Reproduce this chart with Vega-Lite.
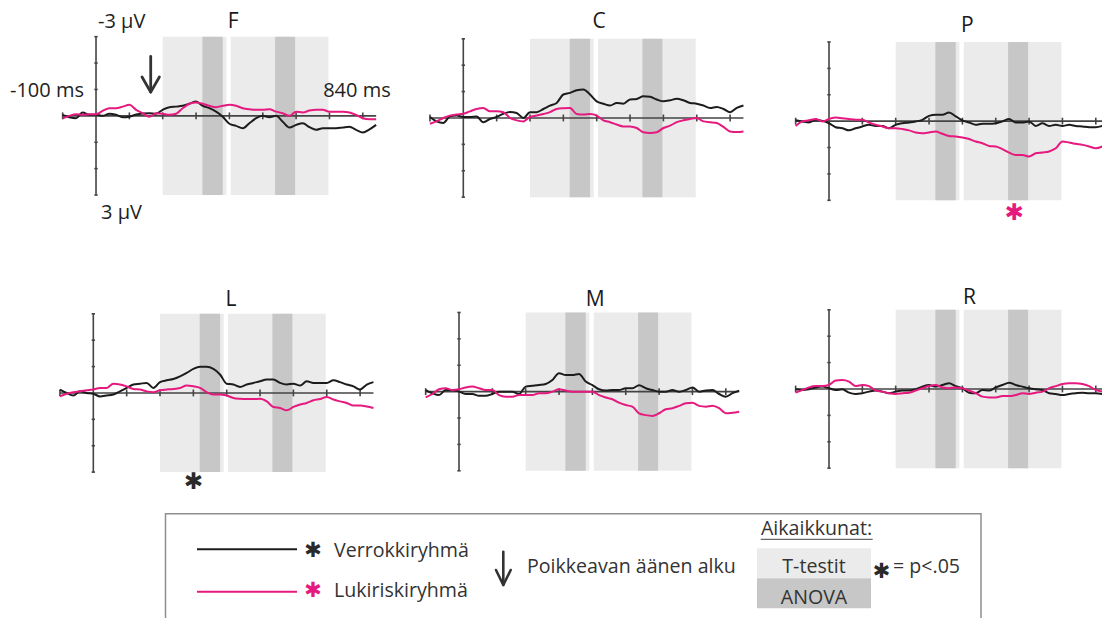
{
  "$schema": "https://vega.github.io/schema/vega-lite/v6.json",
  "padding": 0,
  "spacing": 0,
  "config": {"view": {"stroke": null}, "concat": {"spacing": 0}, "text": {"font": "Open Sans"}},
  "datasets": {
    "win": [
      {"t": 200, "t2": 391, "v": -3, "v2": 3, "kind": "T-testit"},
      {"t": 404, "t2": 697, "v": -3, "v2": 3, "kind": "T-testit"},
      {"t": 319, "t2": 380, "v": -3, "v2": 3, "kind": "ANOVA"},
      {"t": 537, "t2": 597, "v": -3, "v2": 3, "kind": "ANOVA"}
    ],
    "frame": [
      {"t": -100, "t2": 840, "v": 0, "v2": 0},
      {"t": 0, "t2": 0, "v": -3, "v2": 3},
      {"t": -100, "t2": -100, "v": -0.13, "v2": 0.13},
      {"t": 100, "t2": 100, "v": -0.13, "v2": 0.13},
      {"t": 200, "t2": 200, "v": -0.13, "v2": 0.13},
      {"t": 300, "t2": 300, "v": -0.13, "v2": 0.13},
      {"t": 400, "t2": 400, "v": -0.13, "v2": 0.13},
      {"t": 500, "t2": 500, "v": -0.13, "v2": 0.13},
      {"t": 600, "t2": 600, "v": -0.13, "v2": 0.13},
      {"t": 700, "t2": 700, "v": -0.13, "v2": 0.13},
      {"t": 800, "t2": 800, "v": -0.13, "v2": 0.13},
      {"t": -5, "t2": 5, "v": -3, "v2": -3},
      {"t": -5, "t2": 5, "v": -2, "v2": -2},
      {"t": -5, "t2": 5, "v": -1, "v2": -1},
      {"t": -5, "t2": 5, "v": 1, "v2": 1},
      {"t": -5, "t2": 5, "v": 2, "v2": 2},
      {"t": -5, "t2": 5, "v": 3, "v2": 3}
    ],
    "F": [
      {"t": -100, "Verrokkiryhmä": -0.04, "Lukiriskiryhmä": 0.09},
      {"t": -80, "Verrokkiryhmä": 0.05, "Lukiriskiryhmä": 0},
      {"t": -60, "Verrokkiryhmä": 0.09, "Lukiriskiryhmä": -0.06},
      {"t": -40, "Verrokkiryhmä": -0.13, "Lukiriskiryhmä": -0.04},
      {"t": -20, "Verrokkiryhmä": -0.04, "Lukiriskiryhmä": -0.06},
      {"t": 0, "Verrokkiryhmä": -0.04, "Lukiriskiryhmä": -0.06},
      {"t": 20, "Verrokkiryhmä": 0, "Lukiriskiryhmä": -0.19},
      {"t": 40, "Verrokkiryhmä": -0.08, "Lukiriskiryhmä": -0.29},
      {"t": 60, "Verrokkiryhmä": -0.04, "Lukiriskiryhmä": -0.29},
      {"t": 80, "Verrokkiryhmä": 0.05, "Lukiriskiryhmä": -0.35},
      {"t": 100, "Verrokkiryhmä": 0.03, "Lukiriskiryhmä": -0.42},
      {"t": 120, "Verrokkiryhmä": -0.05, "Lukiriskiryhmä": -0.23},
      {"t": 140, "Verrokkiryhmä": -0.09, "Lukiriskiryhmä": -0.1},
      {"t": 160, "Verrokkiryhmä": -0.1, "Lukiriskiryhmä": 0.03},
      {"t": 180, "Verrokkiryhmä": -0.08, "Lukiriskiryhmä": -0.1},
      {"t": 200, "Verrokkiryhmä": -0.23, "Lukiriskiryhmä": -0.08},
      {"t": 220, "Verrokkiryhmä": -0.33, "Lukiriskiryhmä": -0.04},
      {"t": 240, "Verrokkiryhmä": -0.35, "Lukiriskiryhmä": -0.08},
      {"t": 260, "Verrokkiryhmä": -0.38, "Lukiriskiryhmä": -0.29},
      {"t": 280, "Verrokkiryhmä": -0.46, "Lukiriskiryhmä": -0.46},
      {"t": 300, "Verrokkiryhmä": -0.54, "Lukiriskiryhmä": -0.51},
      {"t": 320, "Verrokkiryhmä": -0.38, "Lukiriskiryhmä": -0.46},
      {"t": 340, "Verrokkiryhmä": -0.29, "Lukiriskiryhmä": -0.38},
      {"t": 360, "Verrokkiryhmä": -0.16, "Lukiriskiryhmä": -0.33},
      {"t": 380, "Verrokkiryhmä": 0.03, "Lukiriskiryhmä": -0.38},
      {"t": 400, "Verrokkiryhmä": 0.3, "Lukiriskiryhmä": -0.42},
      {"t": 420, "Verrokkiryhmä": 0.38, "Lukiriskiryhmä": -0.38},
      {"t": 440, "Verrokkiryhmä": 0.47, "Lukiriskiryhmä": -0.29},
      {"t": 460, "Verrokkiryhmä": 0.28, "Lukiriskiryhmä": -0.25},
      {"t": 480, "Verrokkiryhmä": 0.09, "Lukiriskiryhmä": -0.23},
      {"t": 500, "Verrokkiryhmä": 0, "Lukiriskiryhmä": -0.23},
      {"t": 520, "Verrokkiryhmä": 0.05, "Lukiriskiryhmä": -0.25},
      {"t": 540, "Verrokkiryhmä": 0, "Lukiriskiryhmä": -0.16},
      {"t": 560, "Verrokkiryhmä": 0.22, "Lukiriskiryhmä": -0.1},
      {"t": 580, "Verrokkiryhmä": 0.44, "Lukiriskiryhmä": 0},
      {"t": 600, "Verrokkiryhmä": 0.34, "Lukiriskiryhmä": -0.16},
      {"t": 620, "Verrokkiryhmä": 0.28, "Lukiriskiryhmä": -0.13},
      {"t": 640, "Verrokkiryhmä": 0.43, "Lukiriskiryhmä": -0.2},
      {"t": 660, "Verrokkiryhmä": 0.53, "Lukiriskiryhmä": -0.23},
      {"t": 680, "Verrokkiryhmä": 0.47, "Lukiriskiryhmä": -0.23},
      {"t": 700, "Verrokkiryhmä": 0.47, "Lukiriskiryhmä": -0.16},
      {"t": 720, "Verrokkiryhmä": 0.47, "Lukiriskiryhmä": -0.16},
      {"t": 740, "Verrokkiryhmä": 0.44, "Lukiriskiryhmä": -0.16},
      {"t": 760, "Verrokkiryhmä": 0.41, "Lukiriskiryhmä": -0.13},
      {"t": 780, "Verrokkiryhmä": 0.53, "Lukiriskiryhmä": -0.04},
      {"t": 800, "Verrokkiryhmä": 0.63, "Lukiriskiryhmä": 0.09},
      {"t": 820, "Verrokkiryhmä": 0.51, "Lukiriskiryhmä": 0.13},
      {"t": 840, "Verrokkiryhmä": 0.34, "Lukiriskiryhmä": 0.13}
    ],
    "C": [
      {"t": -100, "Verrokkiryhmä": -0.04, "Lukiriskiryhmä": 0.22},
      {"t": -80, "Verrokkiryhmä": 0.13, "Lukiriskiryhmä": 0.13},
      {"t": -60, "Verrokkiryhmä": 0.19, "Lukiriskiryhmä": 0},
      {"t": -40, "Verrokkiryhmä": -0.06, "Lukiriskiryhmä": -0.09},
      {"t": -20, "Verrokkiryhmä": -0.09, "Lukiriskiryhmä": -0.13},
      {"t": 0, "Verrokkiryhmä": -0.04, "Lukiriskiryhmä": -0.16},
      {"t": 20, "Verrokkiryhmä": -0.04, "Lukiriskiryhmä": -0.25},
      {"t": 40, "Verrokkiryhmä": -0.06, "Lukiriskiryhmä": -0.34},
      {"t": 60, "Verrokkiryhmä": 0.16, "Lukiriskiryhmä": -0.38},
      {"t": 80, "Verrokkiryhmä": 0.04, "Lukiriskiryhmä": -0.25},
      {"t": 100, "Verrokkiryhmä": -0.04, "Lukiriskiryhmä": -0.25},
      {"t": 120, "Verrokkiryhmä": -0.16, "Lukiriskiryhmä": -0.22},
      {"t": 140, "Verrokkiryhmä": -0.23, "Lukiriskiryhmä": 0},
      {"t": 160, "Verrokkiryhmä": -0.19, "Lukiriskiryhmä": 0.09},
      {"t": 180, "Verrokkiryhmä": 0, "Lukiriskiryhmä": 0.13},
      {"t": 200, "Verrokkiryhmä": -0.22, "Lukiriskiryhmä": -0.04},
      {"t": 220, "Verrokkiryhmä": -0.22, "Lukiriskiryhmä": -0.09},
      {"t": 240, "Verrokkiryhmä": -0.34, "Lukiriskiryhmä": -0.15},
      {"t": 260, "Verrokkiryhmä": -0.47, "Lukiriskiryhmä": -0.22},
      {"t": 280, "Verrokkiryhmä": -0.57, "Lukiriskiryhmä": -0.34},
      {"t": 300, "Verrokkiryhmä": -0.89, "Lukiriskiryhmä": -0.37},
      {"t": 320, "Verrokkiryhmä": -0.95, "Lukiriskiryhmä": -0.38},
      {"t": 340, "Verrokkiryhmä": -1.05, "Lukiriskiryhmä": -0.15},
      {"t": 360, "Verrokkiryhmä": -1.08, "Lukiriskiryhmä": -0.13},
      {"t": 380, "Verrokkiryhmä": -0.89, "Lukiriskiryhmä": -0.15},
      {"t": 400, "Verrokkiryhmä": -0.63, "Lukiriskiryhmä": -0.09},
      {"t": 420, "Verrokkiryhmä": -0.54, "Lukiriskiryhmä": 0.09},
      {"t": 440, "Verrokkiryhmä": -0.47, "Lukiriskiryhmä": 0.16},
      {"t": 460, "Verrokkiryhmä": -0.57, "Lukiriskiryhmä": 0.25},
      {"t": 480, "Verrokkiryhmä": -0.54, "Lukiriskiryhmä": 0.32},
      {"t": 500, "Verrokkiryhmä": -0.7, "Lukiriskiryhmä": 0.32},
      {"t": 520, "Verrokkiryhmä": -0.72, "Lukiriskiryhmä": 0.38},
      {"t": 540, "Verrokkiryhmä": -0.82, "Lukiriskiryhmä": 0.54},
      {"t": 560, "Verrokkiryhmä": -0.8, "Lukiriskiryhmä": 0.57},
      {"t": 580, "Verrokkiryhmä": -0.7, "Lukiriskiryhmä": 0.54},
      {"t": 600, "Verrokkiryhmä": -0.63, "Lukiriskiryhmä": 0.38},
      {"t": 620, "Verrokkiryhmä": -0.67, "Lukiriskiryhmä": 0.29},
      {"t": 640, "Verrokkiryhmä": -0.73, "Lukiriskiryhmä": 0.16},
      {"t": 660, "Verrokkiryhmä": -0.67, "Lukiriskiryhmä": 0.09},
      {"t": 680, "Verrokkiryhmä": -0.57, "Lukiriskiryhmä": 0.04},
      {"t": 700, "Verrokkiryhmä": -0.54, "Lukiriskiryhmä": 0},
      {"t": 720, "Verrokkiryhmä": -0.47, "Lukiriskiryhmä": 0.13},
      {"t": 740, "Verrokkiryhmä": -0.38, "Lukiriskiryhmä": 0.16},
      {"t": 760, "Verrokkiryhmä": -0.42, "Lukiriskiryhmä": 0.19},
      {"t": 780, "Verrokkiryhmä": -0.34, "Lukiriskiryhmä": 0.34},
      {"t": 800, "Verrokkiryhmä": -0.22, "Lukiriskiryhmä": 0.51},
      {"t": 820, "Verrokkiryhmä": -0.38, "Lukiriskiryhmä": 0.53},
      {"t": 840, "Verrokkiryhmä": -0.47, "Lukiriskiryhmä": 0.51}
    ],
    "P": [
      {"t": -100, "Verrokkiryhmä": -0.03, "Lukiriskiryhmä": 0.18},
      {"t": -80, "Verrokkiryhmä": 0.01, "Lukiriskiryhmä": 0.01},
      {"t": -60, "Verrokkiryhmä": 0.05, "Lukiriskiryhmä": -0.03},
      {"t": -40, "Verrokkiryhmä": -0.05, "Lukiriskiryhmä": -0.08},
      {"t": -20, "Verrokkiryhmä": -0.01, "Lukiriskiryhmä": 0.01},
      {"t": 0, "Verrokkiryhmä": 0.08, "Lukiriskiryhmä": -0.08},
      {"t": 20, "Verrokkiryhmä": 0.23, "Lukiriskiryhmä": -0.14},
      {"t": 40, "Verrokkiryhmä": 0.27, "Lukiriskiryhmä": -0.11},
      {"t": 60, "Verrokkiryhmä": 0.35, "Lukiriskiryhmä": -0.08},
      {"t": 80, "Verrokkiryhmä": 0.27, "Lukiriskiryhmä": -0.05},
      {"t": 100, "Verrokkiryhmä": 0.2, "Lukiriskiryhmä": -0.05},
      {"t": 120, "Verrokkiryhmä": 0.14, "Lukiriskiryhmä": 0.05},
      {"t": 140, "Verrokkiryhmä": 0.18, "Lukiriskiryhmä": 0.14},
      {"t": 160, "Verrokkiryhmä": 0.18, "Lukiriskiryhmä": 0.2},
      {"t": 180, "Verrokkiryhmä": 0.27, "Lukiriskiryhmä": 0.27},
      {"t": 200, "Verrokkiryhmä": 0.14, "Lukiriskiryhmä": 0.27},
      {"t": 220, "Verrokkiryhmä": 0.08, "Lukiriskiryhmä": 0.3},
      {"t": 240, "Verrokkiryhmä": 0.05, "Lukiriskiryhmä": 0.35},
      {"t": 260, "Verrokkiryhmä": 0.01, "Lukiriskiryhmä": 0.43},
      {"t": 280, "Verrokkiryhmä": -0.05, "Lukiriskiryhmä": 0.46},
      {"t": 300, "Verrokkiryhmä": -0.2, "Lukiriskiryhmä": 0.43},
      {"t": 320, "Verrokkiryhmä": -0.24, "Lukiriskiryhmä": 0.39},
      {"t": 340, "Verrokkiryhmä": -0.24, "Lukiriskiryhmä": 0.48},
      {"t": 360, "Verrokkiryhmä": -0.33, "Lukiriskiryhmä": 0.56},
      {"t": 380, "Verrokkiryhmä": -0.18, "Lukiriskiryhmä": 0.58},
      {"t": 400, "Verrokkiryhmä": -0.03, "Lukiriskiryhmä": 0.62},
      {"t": 420, "Verrokkiryhmä": 0.05, "Lukiriskiryhmä": 0.68},
      {"t": 440, "Verrokkiryhmä": 0.14, "Lukiriskiryhmä": 0.77},
      {"t": 460, "Verrokkiryhmä": 0.1, "Lukiriskiryhmä": 0.84},
      {"t": 480, "Verrokkiryhmä": 0.1, "Lukiriskiryhmä": 0.94},
      {"t": 500, "Verrokkiryhmä": 0.08, "Lukiriskiryhmä": 0.96},
      {"t": 520, "Verrokkiryhmä": 0.01, "Lukiriskiryhmä": 1.06},
      {"t": 540, "Verrokkiryhmä": -0.08, "Lukiriskiryhmä": 1.19},
      {"t": 560, "Verrokkiryhmä": 0.05, "Lukiriskiryhmä": 1.28},
      {"t": 580, "Verrokkiryhmä": 0.05, "Lukiriskiryhmä": 1.28},
      {"t": 600, "Verrokkiryhmä": 0.01, "Lukiriskiryhmä": 1.34},
      {"t": 620, "Verrokkiryhmä": 0.18, "Lukiriskiryhmä": 1.22},
      {"t": 640, "Verrokkiryhmä": 0.08, "Lukiriskiryhmä": 1.19},
      {"t": 660, "Verrokkiryhmä": 0.18, "Lukiriskiryhmä": 1.15},
      {"t": 680, "Verrokkiryhmä": 0.14, "Lukiriskiryhmä": 1.03},
      {"t": 700, "Verrokkiryhmä": 0.18, "Lukiriskiryhmä": 0.77},
      {"t": 720, "Verrokkiryhmä": 0.14, "Lukiriskiryhmä": 0.81},
      {"t": 740, "Verrokkiryhmä": 0.18, "Lukiriskiryhmä": 0.86},
      {"t": 760, "Verrokkiryhmä": 0.2, "Lukiriskiryhmä": 0.9},
      {"t": 780, "Verrokkiryhmä": 0.23, "Lukiriskiryhmä": 0.96},
      {"t": 800, "Verrokkiryhmä": 0.23, "Lukiriskiryhmä": 1.03},
      {"t": 820, "Verrokkiryhmä": 0.18, "Lukiriskiryhmä": 0.96}
    ],
    "L": [
      {"t": -100, "Verrokkiryhmä": -0.13, "Lukiriskiryhmä": 0.13},
      {"t": -80, "Verrokkiryhmä": 0, "Lukiriskiryhmä": 0.03},
      {"t": -60, "Verrokkiryhmä": 0.1, "Lukiriskiryhmä": -0.03},
      {"t": -40, "Verrokkiryhmä": -0.06, "Lukiriskiryhmä": -0.06},
      {"t": -20, "Verrokkiryhmä": 0, "Lukiriskiryhmä": -0.1},
      {"t": 0, "Verrokkiryhmä": 0.03, "Lukiriskiryhmä": -0.13},
      {"t": 20, "Verrokkiryhmä": 0.13, "Lukiriskiryhmä": -0.19},
      {"t": 40, "Verrokkiryhmä": 0.1, "Lukiriskiryhmä": -0.19},
      {"t": 60, "Verrokkiryhmä": 0.06, "Lukiriskiryhmä": -0.35},
      {"t": 80, "Verrokkiryhmä": -0.06, "Lukiriskiryhmä": -0.32},
      {"t": 100, "Verrokkiryhmä": -0.19, "Lukiriskiryhmä": -0.25},
      {"t": 120, "Verrokkiryhmä": -0.32, "Lukiriskiryhmä": -0.15},
      {"t": 140, "Verrokkiryhmä": -0.35, "Lukiriskiryhmä": -0.13},
      {"t": 160, "Verrokkiryhmä": -0.38, "Lukiriskiryhmä": -0.06},
      {"t": 180, "Verrokkiryhmä": -0.19, "Lukiriskiryhmä": -0.03},
      {"t": 200, "Verrokkiryhmä": -0.41, "Lukiriskiryhmä": -0.1},
      {"t": 220, "Verrokkiryhmä": -0.48, "Lukiriskiryhmä": -0.13},
      {"t": 240, "Verrokkiryhmä": -0.53, "Lukiriskiryhmä": -0.15},
      {"t": 260, "Verrokkiryhmä": -0.63, "Lukiriskiryhmä": -0.19},
      {"t": 280, "Verrokkiryhmä": -0.76, "Lukiriskiryhmä": -0.28},
      {"t": 300, "Verrokkiryhmä": -0.91, "Lukiriskiryhmä": -0.25},
      {"t": 320, "Verrokkiryhmä": -0.99, "Lukiriskiryhmä": -0.19},
      {"t": 340, "Verrokkiryhmä": -0.99, "Lukiriskiryhmä": -0.03},
      {"t": 360, "Verrokkiryhmä": -0.91, "Lukiriskiryhmä": 0.06},
      {"t": 380, "Verrokkiryhmä": -0.7, "Lukiriskiryhmä": 0.06},
      {"t": 400, "Verrokkiryhmä": -0.35, "Lukiriskiryhmä": 0.1},
      {"t": 420, "Verrokkiryhmä": -0.32, "Lukiriskiryhmä": 0.19},
      {"t": 440, "Verrokkiryhmä": -0.23, "Lukiriskiryhmä": 0.22},
      {"t": 460, "Verrokkiryhmä": -0.32, "Lukiriskiryhmä": 0.23},
      {"t": 480, "Verrokkiryhmä": -0.38, "Lukiriskiryhmä": 0.23},
      {"t": 500, "Verrokkiryhmä": -0.44, "Lukiriskiryhmä": 0.22},
      {"t": 520, "Verrokkiryhmä": -0.51, "Lukiriskiryhmä": 0.32},
      {"t": 540, "Verrokkiryhmä": -0.51, "Lukiriskiryhmä": 0.53},
      {"t": 560, "Verrokkiryhmä": -0.38, "Lukiriskiryhmä": 0.57},
      {"t": 580, "Verrokkiryhmä": -0.32, "Lukiriskiryhmä": 0.66},
      {"t": 600, "Verrokkiryhmä": -0.35, "Lukiriskiryhmä": 0.53},
      {"t": 620, "Verrokkiryhmä": -0.28, "Lukiriskiryhmä": 0.44},
      {"t": 640, "Verrokkiryhmä": -0.44, "Lukiriskiryhmä": 0.38},
      {"t": 660, "Verrokkiryhmä": -0.38, "Lukiriskiryhmä": 0.28},
      {"t": 680, "Verrokkiryhmä": -0.38, "Lukiriskiryhmä": 0.23},
      {"t": 700, "Verrokkiryhmä": -0.38, "Lukiriskiryhmä": 0.15},
      {"t": 720, "Verrokkiryhmä": -0.48, "Lukiriskiryhmä": 0.25},
      {"t": 740, "Verrokkiryhmä": -0.41, "Lukiriskiryhmä": 0.32},
      {"t": 760, "Verrokkiryhmä": -0.32, "Lukiriskiryhmä": 0.38},
      {"t": 780, "Verrokkiryhmä": -0.25, "Lukiriskiryhmä": 0.48},
      {"t": 800, "Verrokkiryhmä": -0.13, "Lukiriskiryhmä": 0.48},
      {"t": 820, "Verrokkiryhmä": -0.32, "Lukiriskiryhmä": 0.51},
      {"t": 840, "Verrokkiryhmä": -0.41, "Lukiriskiryhmä": 0.57}
    ],
    "M": [
      {"t": -100, "Verrokkiryhmä": -0.06, "Lukiriskiryhmä": 0.22},
      {"t": -80, "Verrokkiryhmä": 0.06, "Lukiriskiryhmä": 0.09},
      {"t": -60, "Verrokkiryhmä": 0.13, "Lukiriskiryhmä": -0.09},
      {"t": -40, "Verrokkiryhmä": -0.06, "Lukiriskiryhmä": -0.13},
      {"t": -20, "Verrokkiryhmä": -0.06, "Lukiriskiryhmä": -0.06},
      {"t": 0, "Verrokkiryhmä": 0, "Lukiriskiryhmä": -0.09},
      {"t": 20, "Verrokkiryhmä": 0.09, "Lukiriskiryhmä": -0.16},
      {"t": 40, "Verrokkiryhmä": 0.09, "Lukiriskiryhmä": -0.19},
      {"t": 60, "Verrokkiryhmä": 0.16, "Lukiriskiryhmä": -0.13},
      {"t": 80, "Verrokkiryhmä": 0.16, "Lukiriskiryhmä": -0.06},
      {"t": 100, "Verrokkiryhmä": 0.09, "Lukiriskiryhmä": -0.06},
      {"t": 120, "Verrokkiryhmä": 0, "Lukiriskiryhmä": 0.13},
      {"t": 140, "Verrokkiryhmä": 0, "Lukiriskiryhmä": 0.19},
      {"t": 160, "Verrokkiryhmä": 0, "Lukiriskiryhmä": 0.19},
      {"t": 180, "Verrokkiryhmä": 0.09, "Lukiriskiryhmä": 0.13},
      {"t": 200, "Verrokkiryhmä": -0.19, "Lukiriskiryhmä": 0.13},
      {"t": 220, "Verrokkiryhmä": -0.22, "Lukiriskiryhmä": 0.13},
      {"t": 240, "Verrokkiryhmä": -0.25, "Lukiriskiryhmä": 0.06},
      {"t": 260, "Verrokkiryhmä": -0.29, "Lukiriskiryhmä": 0.06},
      {"t": 280, "Verrokkiryhmä": -0.44, "Lukiriskiryhmä": 0},
      {"t": 300, "Verrokkiryhmä": -0.7, "Lukiriskiryhmä": -0.09},
      {"t": 320, "Verrokkiryhmä": -0.63, "Lukiriskiryhmä": -0.04},
      {"t": 340, "Verrokkiryhmä": -0.63, "Lukiriskiryhmä": 0},
      {"t": 360, "Verrokkiryhmä": -0.67, "Lukiriskiryhmä": 0},
      {"t": 380, "Verrokkiryhmä": -0.38, "Lukiriskiryhmä": 0},
      {"t": 400, "Verrokkiryhmä": -0.25, "Lukiriskiryhmä": 0},
      {"t": 420, "Verrokkiryhmä": -0.09, "Lukiriskiryhmä": 0.13},
      {"t": 440, "Verrokkiryhmä": -0.04, "Lukiriskiryhmä": 0.22},
      {"t": 460, "Verrokkiryhmä": -0.06, "Lukiriskiryhmä": 0.29},
      {"t": 480, "Verrokkiryhmä": -0.06, "Lukiriskiryhmä": 0.42},
      {"t": 500, "Verrokkiryhmä": -0.13, "Lukiriskiryhmä": 0.51},
      {"t": 520, "Verrokkiryhmä": -0.13, "Lukiriskiryhmä": 0.57},
      {"t": 540, "Verrokkiryhmä": -0.24, "Lukiriskiryhmä": 0.82},
      {"t": 560, "Verrokkiryhmä": -0.13, "Lukiriskiryhmä": 0.89},
      {"t": 580, "Verrokkiryhmä": -0.06, "Lukiriskiryhmä": 0.92},
      {"t": 600, "Verrokkiryhmä": 0, "Lukiriskiryhmä": 0.82},
      {"t": 620, "Verrokkiryhmä": 0, "Lukiriskiryhmä": 0.67},
      {"t": 640, "Verrokkiryhmä": -0.06, "Lukiriskiryhmä": 0.63},
      {"t": 660, "Verrokkiryhmä": 0, "Lukiriskiryhmä": 0.54},
      {"t": 680, "Verrokkiryhmä": -0.06, "Lukiriskiryhmä": 0.44},
      {"t": 700, "Verrokkiryhmä": -0.16, "Lukiriskiryhmä": 0.42},
      {"t": 720, "Verrokkiryhmä": 0, "Lukiriskiryhmä": 0.54},
      {"t": 740, "Verrokkiryhmä": -0.04, "Lukiriskiryhmä": 0.57},
      {"t": 760, "Verrokkiryhmä": -0.06, "Lukiriskiryhmä": 0.54},
      {"t": 780, "Verrokkiryhmä": 0.09, "Lukiriskiryhmä": 0.63},
      {"t": 800, "Verrokkiryhmä": 0.19, "Lukiriskiryhmä": 0.82},
      {"t": 820, "Verrokkiryhmä": 0.06, "Lukiriskiryhmä": 0.8},
      {"t": 840, "Verrokkiryhmä": -0.04, "Lukiriskiryhmä": 0.76}
    ],
    "R": [
      {"t": -100, "Verrokkiryhmä": 0.01, "Lukiriskiryhmä": 0.14},
      {"t": -80, "Verrokkiryhmä": 0.04, "Lukiriskiryhmä": 0.04},
      {"t": -60, "Verrokkiryhmä": 0.01, "Lukiriskiryhmä": -0.06},
      {"t": -40, "Verrokkiryhmä": -0.06, "Lukiriskiryhmä": -0.11},
      {"t": -20, "Verrokkiryhmä": -0.09, "Lukiriskiryhmä": -0.11},
      {"t": 0, "Verrokkiryhmä": -0.03, "Lukiriskiryhmä": -0.15},
      {"t": 20, "Verrokkiryhmä": 0.04, "Lukiriskiryhmä": -0.32},
      {"t": 40, "Verrokkiryhmä": 0.01, "Lukiriskiryhmä": -0.34},
      {"t": 60, "Verrokkiryhmä": 0.14, "Lukiriskiryhmä": -0.28},
      {"t": 80, "Verrokkiryhmä": 0.19, "Lukiriskiryhmä": -0.11},
      {"t": 100, "Verrokkiryhmä": 0.16, "Lukiriskiryhmä": -0.15},
      {"t": 120, "Verrokkiryhmä": 0.1, "Lukiriskiryhmä": -0.11},
      {"t": 140, "Verrokkiryhmä": 0.06, "Lukiriskiryhmä": 0.06},
      {"t": 160, "Verrokkiryhmä": 0.1, "Lukiriskiryhmä": 0.1},
      {"t": 180, "Verrokkiryhmä": 0.16, "Lukiriskiryhmä": 0.16},
      {"t": 200, "Verrokkiryhmä": 0.1, "Lukiriskiryhmä": 0.19},
      {"t": 220, "Verrokkiryhmä": 0.06, "Lukiriskiryhmä": 0.16},
      {"t": 240, "Verrokkiryhmä": 0.06, "Lukiriskiryhmä": 0.14},
      {"t": 260, "Verrokkiryhmä": 0.01, "Lukiriskiryhmä": 0.06},
      {"t": 280, "Verrokkiryhmä": -0.09, "Lukiriskiryhmä": -0.03},
      {"t": 300, "Verrokkiryhmä": -0.15, "Lukiriskiryhmä": -0.11},
      {"t": 320, "Verrokkiryhmä": -0.09, "Lukiriskiryhmä": -0.15},
      {"t": 340, "Verrokkiryhmä": -0.15, "Lukiriskiryhmä": -0.06},
      {"t": 360, "Verrokkiryhmä": -0.22, "Lukiriskiryhmä": -0.03},
      {"t": 380, "Verrokkiryhmä": -0.11, "Lukiriskiryhmä": -0.06},
      {"t": 400, "Verrokkiryhmä": -0.03, "Lukiriskiryhmä": -0.03},
      {"t": 420, "Verrokkiryhmä": 0.14, "Lukiriskiryhmä": 0.06},
      {"t": 440, "Verrokkiryhmä": 0.16, "Lukiriskiryhmä": 0.16},
      {"t": 460, "Verrokkiryhmä": 0.04, "Lukiriskiryhmä": 0.29},
      {"t": 480, "Verrokkiryhmä": 0.06, "Lukiriskiryhmä": 0.32},
      {"t": 500, "Verrokkiryhmä": -0.06, "Lukiriskiryhmä": 0.32},
      {"t": 520, "Verrokkiryhmä": -0.15, "Lukiriskiryhmä": 0.27},
      {"t": 540, "Verrokkiryhmä": -0.24, "Lukiriskiryhmä": 0.27},
      {"t": 560, "Verrokkiryhmä": -0.15, "Lukiriskiryhmä": 0.23},
      {"t": 580, "Verrokkiryhmä": -0.09, "Lukiriskiryhmä": 0.16},
      {"t": 600, "Verrokkiryhmä": -0.03, "Lukiriskiryhmä": 0.19},
      {"t": 620, "Verrokkiryhmä": 0.01, "Lukiriskiryhmä": 0.14},
      {"t": 640, "Verrokkiryhmä": 0.04, "Lukiriskiryhmä": 0.1},
      {"t": 660, "Verrokkiryhmä": 0.16, "Lukiriskiryhmä": -0.03},
      {"t": 680, "Verrokkiryhmä": 0.19, "Lukiriskiryhmä": -0.11},
      {"t": 700, "Verrokkiryhmä": 0.23, "Lukiriskiryhmä": -0.19},
      {"t": 720, "Verrokkiryhmä": 0.19, "Lukiriskiryhmä": -0.22},
      {"t": 740, "Verrokkiryhmä": 0.16, "Lukiriskiryhmä": -0.22},
      {"t": 760, "Verrokkiryhmä": 0.14, "Lukiriskiryhmä": -0.19},
      {"t": 780, "Verrokkiryhmä": 0.16, "Lukiriskiryhmä": -0.11},
      {"t": 800, "Verrokkiryhmä": 0.16, "Lukiriskiryhmä": 0.04},
      {"t": 820, "Verrokkiryhmä": 0.19, "Lukiriskiryhmä": 0.1}
    ]
  },
  "vconcat": [
    {
      "hconcat": [
        {
          "width": 400, "height": 275,
          "encoding": {
            "x": {"field": "t", "type": "quantitative", "scale": {"domain": [-287.9, 911.5], "nice": false, "zero": false}, "axis": null},
            "y": {"field": "v", "type": "quantitative", "scale": {"domain": [-4.39, 6.03], "nice": false, "zero": false, "reverse": true}, "axis": null}
          },
          "layer": [
            {"data": {"name": "win"}, "mark": {"type": "rect"}, "encoding": {"x2": {"field": "t2"}, "y2": {"field": "v2"}, "fill": {"field": "kind", "type": "nominal", "scale": {"domain": ["T-testit", "ANOVA"], "range": ["#eaebea", "#c6c7c6"]}, "legend": null}}},
            {"data": {"name": "frame"}, "mark": {"type": "rule", "color": "#444444", "strokeWidth": 1.6, "clip": true}, "encoding": {"x2": {"field": "t2"}, "y2": {"field": "v2"}}},
            {"data": {"name": "F"}, "transform": [{"fold": ["Verrokkiryhmä", "Lukiriskiryhmä"], "as": ["group", "v"]}], "mark": {"type": "line", "strokeWidth": 2, "interpolate": "monotone", "clip": true}, "encoding": {"stroke": {"field": "group", "type": "nominal", "scale": {"domain": ["Verrokkiryhmä", "Lukiriskiryhmä"], "range": ["#1c1c1c", "#e5197e"]}, "legend": null}}},
            {"data": {"values": [{"label": "F", "t": 411, "v": -3.33}]}, "mark": {"type": "text", "fontSize": 21, "color": "#1a1a1a", "baseline": "alphabetic", "align": "center"}, "encoding": {"text": {"field": "label"}}},
            {"data": {"values": [{"label": "-3 µV", "t": 6, "v": -3.33}, {"label": "3 µV", "t": 15, "v": 3.9}, {"label": "-100 ms", "t": -258, "v": -0.72}, {"label": "840 ms", "t": 681, "v": -0.72}]}, "mark": {"type": "text", "fontSize": 20, "color": "#222222", "baseline": "alphabetic", "align": "left"}, "encoding": {"text": {"field": "label"}}},
            {"data": {"values": [{"t": 164, "t2": 164, "v": -2.25, "v2": -0.95}, {"t": 138, "t2": 164, "v": -1.47, "v2": -0.9}, {"t": 190, "t2": 164, "v": -1.47, "v2": -0.9}]}, "mark": {"type": "rule", "color": "#333333", "strokeWidth": 2.8, "strokeCap": "round"}, "encoding": {"x2": {"field": "t2"}, "y2": {"field": "v2"}}}
          ]
        },
        {
          "width": 370, "height": 275,
          "encoding": {
            "x": {"field": "t", "type": "quantitative", "scale": {"domain": [-189.8, 919.6], "nice": false, "zero": false}, "axis": null},
            "y": {"field": "v", "type": "quantitative", "scale": {"domain": [-4.47, 5.95], "nice": false, "zero": false, "reverse": true}, "axis": null}
          },
          "layer": [
            {"data": {"name": "win"}, "mark": {"type": "rect"}, "encoding": {"x2": {"field": "t2"}, "y2": {"field": "v2"}, "fill": {"field": "kind", "type": "nominal", "scale": {"domain": ["T-testit", "ANOVA"], "range": ["#eaebea", "#c6c7c6"]}, "legend": null}}},
            {"data": {"name": "frame"}, "mark": {"type": "rule", "color": "#444444", "strokeWidth": 1.6, "clip": true}, "encoding": {"x2": {"field": "t2"}, "y2": {"field": "v2"}}},
            {"data": {"name": "C"}, "transform": [{"fold": ["Verrokkiryhmä", "Lukiriskiryhmä"], "as": ["group", "v"]}], "mark": {"type": "line", "strokeWidth": 2, "interpolate": "monotone", "clip": true}, "encoding": {"stroke": {"field": "group", "type": "nominal", "scale": {"domain": ["Verrokkiryhmä", "Lukiriskiryhmä"], "range": ["#1c1c1c", "#e5197e"]}, "legend": null}}},
            {"data": {"values": [{"label": "C", "t": 407, "v": -3.4}]}, "mark": {"type": "text", "fontSize": 21, "color": "#1a1a1a", "baseline": "alphabetic", "align": "center"}, "encoding": {"text": {"field": "label"}}}
          ]
        },
        {
          "width": 332, "height": 275,
          "encoding": {
            "x": {"field": "t", "type": "quantitative", "scale": {"domain": [-176.9, 818.6], "nice": false, "zero": false}, "axis": null},
            "y": {"field": "v", "type": "quantitative", "scale": {"domain": [-4.59, 5.83], "nice": false, "zero": false, "reverse": true}, "axis": null}
          },
          "layer": [
            {"data": {"name": "win"}, "mark": {"type": "rect"}, "encoding": {"x2": {"field": "t2"}, "y2": {"field": "v2"}, "fill": {"field": "kind", "type": "nominal", "scale": {"domain": ["T-testit", "ANOVA"], "range": ["#eaebea", "#c6c7c6"]}, "legend": null}}},
            {"data": {"name": "frame"}, "mark": {"type": "rule", "color": "#444444", "strokeWidth": 1.6, "clip": true}, "encoding": {"x2": {"field": "t2"}, "y2": {"field": "v2"}}},
            {"data": {"name": "P"}, "transform": [{"fold": ["Verrokkiryhmä", "Lukiriskiryhmä"], "as": ["group", "v"]}], "mark": {"type": "line", "strokeWidth": 2, "interpolate": "monotone", "clip": true}, "encoding": {"stroke": {"field": "group", "type": "nominal", "scale": {"domain": ["Verrokkiryhmä", "Lukiriskiryhmä"], "range": ["#1c1c1c", "#e5197e"]}, "legend": null}}},
            {"data": {"values": [{"label": "P", "t": 415, "v": -3.39}]}, "mark": {"type": "text", "fontSize": 21, "color": "#1a1a1a", "baseline": "alphabetic", "align": "center"}, "encoding": {"text": {"field": "label"}}},
            {"data": {"values": [{"label": "✱", "t": 555, "v": 3.47}]}, "mark": {"type": "text", "font": "DejaVu Sans", "fontSize": 23, "color": "#e5197e", "baseline": "middle", "align": "center"}, "encoding": {"text": {"field": "label"}}}
          ]
        }
      ]
    },
    {
      "hconcat": [
        {
          "width": 400, "height": 238,
          "encoding": {
            "x": {"field": "t", "type": "quantitative", "scale": {"domain": [-279.8, 919.6], "nice": false, "zero": false}, "axis": null},
            "y": {"field": "v", "type": "quantitative", "scale": {"domain": [-4.47, 4.55], "nice": false, "zero": false, "reverse": true}, "axis": null}
          },
          "layer": [
            {"data": {"name": "win"}, "mark": {"type": "rect"}, "encoding": {"x2": {"field": "t2"}, "y2": {"field": "v2"}, "fill": {"field": "kind", "type": "nominal", "scale": {"domain": ["T-testit", "ANOVA"], "range": ["#eaebea", "#c6c7c6"]}, "legend": null}}},
            {"data": {"name": "frame"}, "mark": {"type": "rule", "color": "#444444", "strokeWidth": 1.6, "clip": true}, "encoding": {"x2": {"field": "t2"}, "y2": {"field": "v2"}}},
            {"data": {"name": "L"}, "transform": [{"fold": ["Verrokkiryhmä", "Lukiriskiryhmä"], "as": ["group", "v"]}], "mark": {"type": "line", "strokeWidth": 2, "interpolate": "monotone", "clip": true}, "encoding": {"stroke": {"field": "group", "type": "nominal", "scale": {"domain": ["Verrokkiryhmä", "Lukiriskiryhmä"], "range": ["#1c1c1c", "#e5197e"]}, "legend": null}}},
            {"data": {"values": [{"label": "L", "t": 413, "v": -3.31}]}, "mark": {"type": "text", "fontSize": 21, "color": "#1a1a1a", "baseline": "alphabetic", "align": "center"}, "encoding": {"text": {"field": "label"}}},
            {"data": {"values": [{"label": "✱", "t": 300, "v": 3.36}]}, "mark": {"type": "text", "font": "DejaVu Sans", "fontSize": 23, "color": "#2a2a2a", "baseline": "middle", "align": "center"}, "encoding": {"text": {"field": "label"}}}
          ]
        },
        {
          "width": 370, "height": 238,
          "encoding": {
            "x": {"field": "t", "type": "quantitative", "scale": {"domain": [-176.9, 932.5], "nice": false, "zero": false}, "axis": null},
            "y": {"field": "v", "type": "quantitative", "scale": {"domain": [-4.42, 4.6], "nice": false, "zero": false, "reverse": true}, "axis": null}
          },
          "layer": [
            {"data": {"name": "win"}, "mark": {"type": "rect"}, "encoding": {"x2": {"field": "t2"}, "y2": {"field": "v2"}, "fill": {"field": "kind", "type": "nominal", "scale": {"domain": ["T-testit", "ANOVA"], "range": ["#eaebea", "#c6c7c6"]}, "legend": null}}},
            {"data": {"name": "frame"}, "mark": {"type": "rule", "color": "#444444", "strokeWidth": 1.6, "clip": true}, "encoding": {"x2": {"field": "t2"}, "y2": {"field": "v2"}}},
            {"data": {"name": "M"}, "transform": [{"fold": ["Verrokkiryhmä", "Lukiriskiryhmä"], "as": ["group", "v"]}], "mark": {"type": "line", "strokeWidth": 2, "interpolate": "monotone", "clip": true}, "encoding": {"stroke": {"field": "group", "type": "nominal", "scale": {"domain": ["Verrokkiryhmä", "Lukiriskiryhmä"], "range": ["#1c1c1c", "#e5197e"]}, "legend": null}}},
            {"data": {"values": [{"label": "M", "t": 408, "v": -3.25}]}, "mark": {"type": "text", "fontSize": 21, "color": "#1a1a1a", "baseline": "alphabetic", "align": "center"}, "encoding": {"text": {"field": "label"}}}
          ]
        },
        {
          "width": 332, "height": 238,
          "encoding": {
            "x": {"field": "t", "type": "quantitative", "scale": {"domain": [-176.9, 818.6], "nice": false, "zero": false}, "axis": null},
            "y": {"field": "v", "type": "quantitative", "scale": {"domain": [-4.32, 4.7], "nice": false, "zero": false, "reverse": true}, "axis": null}
          },
          "layer": [
            {"data": {"name": "win"}, "mark": {"type": "rect"}, "encoding": {"x2": {"field": "t2"}, "y2": {"field": "v2"}, "fill": {"field": "kind", "type": "nominal", "scale": {"domain": ["T-testit", "ANOVA"], "range": ["#eaebea", "#c6c7c6"]}, "legend": null}}},
            {"data": {"name": "frame"}, "mark": {"type": "rule", "color": "#444444", "strokeWidth": 1.6, "clip": true}, "encoding": {"x2": {"field": "t2"}, "y2": {"field": "v2"}}},
            {"data": {"name": "R"}, "transform": [{"fold": ["Verrokkiryhmä", "Lukiriskiryhmä"], "as": ["group", "v"]}], "mark": {"type": "line", "strokeWidth": 2, "interpolate": "monotone", "clip": true}, "encoding": {"stroke": {"field": "group", "type": "nominal", "scale": {"domain": ["Verrokkiryhmä", "Lukiriskiryhmä"], "range": ["#1c1c1c", "#e5197e"]}, "legend": null}}},
            {"data": {"values": [{"label": "R", "t": 421, "v": -3.21}]}, "mark": {"type": "text", "fontSize": 21, "color": "#1a1a1a", "baseline": "alphabetic", "align": "center"}, "encoding": {"text": {"field": "label"}}}
          ]
        }
      ]
    },
    {
      "width": 1102, "height": 105,
      "encoding": {
        "x": {"field": "x", "type": "quantitative", "scale": {"domain": [0, 1102], "nice": false, "zero": false}, "axis": null},
        "y": {"field": "y", "type": "quantitative", "scale": {"domain": [0, 105], "nice": false, "zero": false, "reverse": true}, "axis": null}
      },
      "layer": [
        {"data": {"values": [{"x": 165.5, "x2": 981, "y": 0.75, "y2": 140}]}, "mark": {"type": "rect", "fill": "#ffffff", "fillOpacity": 0, "stroke": "#8f8f8f", "strokeWidth": 1.5, "clip": true}, "encoding": {"x2": {"field": "x2"}, "y2": {"field": "y2"}}},
        {"data": {"values": [{"x": 757, "x2": 871, "y": 35.3, "y2": 65.3, "kind": "T-testit"}, {"x": 757, "x2": 871, "y": 65.3, "y2": 95.3, "kind": "ANOVA"}]}, "mark": {"type": "rect"}, "encoding": {"x2": {"field": "x2"}, "y2": {"field": "y2"}, "fill": {"field": "kind", "type": "nominal", "scale": {"domain": ["T-testit", "ANOVA"], "range": ["#eaebea", "#c6c7c6"]}, "legend": null}}},
        {"data": {"values": [{"x": 197, "x2": 297, "y": 36.3, "group": "Verrokkiryhmä"}, {"x": 197, "x2": 297, "y": 78.7, "group": "Lukiriskiryhmä"}]}, "mark": {"type": "rule", "strokeWidth": 2}, "encoding": {"x2": {"field": "x2"}, "stroke": {"field": "group", "type": "nominal", "scale": {"domain": ["Verrokkiryhmä", "Lukiriskiryhmä"], "range": ["#1c1c1c", "#e5197e"]}, "legend": null}}},
        {"data": {"values": [{"x": 503.3, "x2": 503.3, "y": 38.7, "y2": 71}, {"x": 496, "x2": 503.3, "y": 57, "y2": 72}, {"x": 510.7, "x2": 503.3, "y": 57, "y2": 72}]}, "mark": {"type": "rule", "color": "#333333", "strokeWidth": 2.6, "strokeCap": "round"}, "encoding": {"x2": {"field": "x2"}, "y2": {"field": "y2"}}},
        {"data": {"values": [{"x": 760.7, "x2": 872.7, "y": 26.3}]}, "mark": {"type": "rule", "color": "#444444", "strokeWidth": 1}, "encoding": {"x2": {"field": "x2"}}},
        {"data": {"values": [{"label": "Verrokkiryhmä", "x": 334, "y": 43.7}, {"label": "Lukiriskiryhmä", "x": 334, "y": 84.3}, {"label": "Poikkeavan äänen alku", "x": 527, "y": 60.3}, {"label": "= p<.05", "x": 893, "y": 60}]}, "mark": {"type": "text", "fontSize": 19.6, "color": "#333333", "baseline": "alphabetic", "align": "left"}, "encoding": {"text": {"field": "label"}}},
        {"data": {"values": [{"label": "Aikaikkunat:", "x": 816.5, "y": 22}, {"label": "T-testit", "x": 814, "y": 60}, {"label": "ANOVA", "x": 814, "y": 91}]}, "mark": {"type": "text", "fontSize": 19.6, "color": "#333333", "baseline": "alphabetic", "align": "center"}, "encoding": {"text": {"field": "label"}}},
        {"data": {"values": [{"label": "✱", "x": 313, "y": 37.5, "group": "Verrokkiryhmä"}, {"label": "✱", "x": 313, "y": 77.7, "group": "Lukiriskiryhmä"}, {"label": "✱", "x": 881.5, "y": 58.7, "group": "p<.05"}]}, "mark": {"type": "text", "font": "DejaVu Sans", "fontSize": 21, "baseline": "middle", "align": "center"}, "encoding": {"text": {"field": "label"}, "color": {"field": "group", "type": "nominal", "scale": {"domain": ["Verrokkiryhmä", "Lukiriskiryhmä", "p<.05"], "range": ["#2a2a2a", "#e5197e", "#2a2a2a"]}, "legend": null}}}
      ]
    }
  ]
}
